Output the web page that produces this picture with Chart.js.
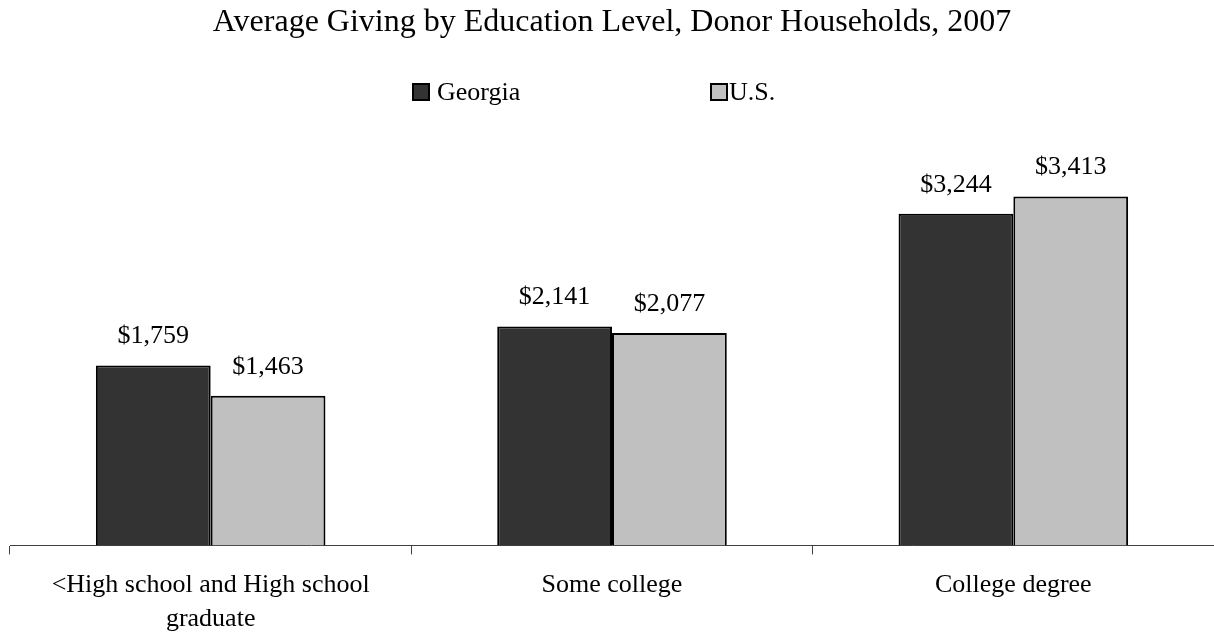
<!DOCTYPE html>
<html>
<head>
<meta charset="utf-8">
<script src="https://cdn.jsdelivr.net/npm/chart.js@4.4.1/dist/chart.umd.min.js"></script>
<style>
  html, body { margin: 0; padding: 0; background: #fff; }
  #wrap { width: 1214px; height: 635px; }
</style>
</head>
<body>
<div id="wrap"><canvas id="myChart" width="1214" height="635"></canvas></div>
<script>
var categories = [["<High school and High school", "graduate"], "Some college", "College degree"];
var georgia = [1759, 2141, 3244];
var us = [1463, 2077, 3413];
var seriesNames = ["Georgia", "U.S."];

var serif = "'Liberation Serif', 'Times New Roman', serif";

// dollar labels above each bar
var valueLabels = {
  id: "valueLabels",
  afterDatasetsDraw: function (chart) {
    var ctx = chart.ctx;
    ctx.save();
    ctx.font = "26px " + serif;
    ctx.fillStyle = "#000";
    ctx.textAlign = "center";
    ctx.textBaseline = "middle";
    chart.data.datasets.forEach(function (ds, i) {
      chart.getDatasetMeta(i).data.forEach(function (bar, j) {
        ctx.fillText("$" + ds.data[j].toLocaleString("en-US"), bar.x, bar.y - 29);
      });
    });
    ctx.restore();
  },
};

// legend with the wide gap between the two entries
var wideLegend = {
  id: "wideLegend",
  afterDraw: function (chart) {
    var ctx = chart.ctx;
    var boxX = [413, 711];
    var textX = [437, 729];
    var y = 92;
    ctx.save();
    ctx.font = "26px " + serif;
    ctx.textBaseline = "middle";
    chart.data.datasets.forEach(function (ds, i) {
      ctx.fillStyle = ds.backgroundColor;
      ctx.fillRect(boxX[i], y - 8, 16, 16);
      ctx.strokeStyle = "#000";
      ctx.lineWidth = 2;
      ctx.strokeRect(boxX[i], y - 8, 16, 16);
      ctx.fillStyle = "#000";
      ctx.fillText(ds.label, textX[i], y + 1);
    });
    ctx.restore();
  },
};

var ctx = document.getElementById("myChart").getContext("2d");

var chart = new Chart(ctx, {
  type: "bar",
  data: {
    labels: categories,
    datasets: [
      {
        label: seriesNames[0],
        backgroundColor: "#333333",
        borderColor: "#000000",
        borderWidth: 2,
        data: georgia,
      },
      {
        label: seriesNames[1],
        backgroundColor: "#c0c0c0",
        borderColor: "#000000",
        borderWidth: 2,
        data: us,
      },
    ],
  },
  options: {
    responsive: false,
    animation: false,
    layout: { padding: { left: 10, right: 0, top: 0, bottom: -15 } },
    datasets: {
      bar: { categoryPercentage: 0.572, barPercentage: 1.0 },
    },
    plugins: {
      legend: { display: false },
      tooltip: { enabled: false },
      title: {
        display: true,
        text: "Average Giving by Education Level, Donor Households, 2007",
        color: "#000",
        font: { family: serif, size: 32, weight: "normal", lineHeight: 1.2 },
        padding: { top: 3, bottom: 95 },
      },
    },
    scales: {
      x: {
        offset: true,
        border: { display: true, color: "#404040", width: 1 },
        grid: {
          offset: true,
          display: true,
          drawOnChartArea: false,
          drawTicks: true,
          tickLength: 9,
          color: "#404040",
        },
        ticks: {
          color: "#000",
          padding: 14,
          maxRotation: 0,
          autoSkip: false,
          font: { family: serif, size: 26, lineHeight: 1.3 },
        },
      },
      y: {
        display: false,
        min: 0,
        max: 4000,
      },
    },
  },
  plugins: [valueLabels, wideLegend],
});
</script>
</body>
</html>
